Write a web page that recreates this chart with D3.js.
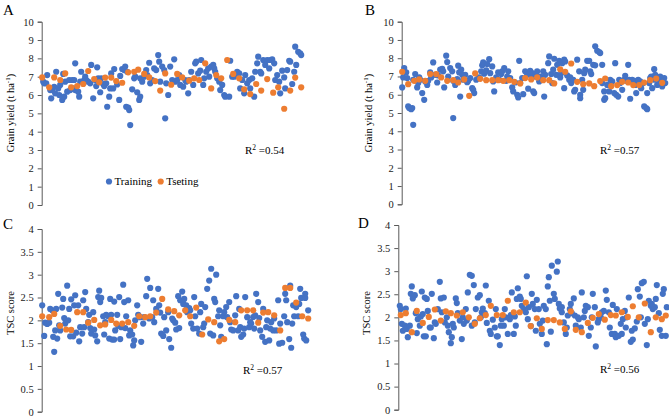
<!DOCTYPE html>
<html><head><meta charset="utf-8">
<script src="https://cdn.jsdelivr.net/npm/d3@7"></script>
<style>body{margin:0;background:#fff}svg{display:block}</style>
</head><body><svg id="c" width="669" height="418"></svg>
<script>
// ---- data: [sample index, value] ----
const trainA = [[1,6.73],[2,6.64],[4,6.64],[5,7.09],[8,6.27],[9,5.82],[10,6.27],[12,6.45],[13,6.09],[14,7.27],[16,6.36],[17,6.0],[18,6.55],[20,5.73],[21,7.15],[22,5.91],[23,6.73],[25,6.18],[27,6.82],[28,6.27],[30,6.82],[31,6.36],[32,6.82],[33,7.73],[33,6.27],[36,6.18],[37,5.91],[38,6.73],[39,7.27],[42,6.82],[43,7.0],[44,6.82],[46,6.73],[48,6.64],[49,7.64],[51,5.82],[53,6.82],[54,6.49],[55,7.51],[56,6.91],[58,6.15],[59,6.91],[61,6.6],[62,6.49],[64,6.64],[65,5.36],[67,5.91],[68,6.36],[69,7.18],[71,6.36],[72,7.42],[75,6.58],[77,5.73],[78,7.04],[80,7.42],[82,7.36],[83,7.55],[84,5.36],[85,7.27],[86,5.31],[87,5.18],[88,4.36],[90,6.31],[92,6.91],[93,7.0],[95,6.15],[97,5.73],[98,5.91],[98,6.91],[100,6.73],[102,7.0],[104,7.36],[105,7.09],[107,7.76],[108,6.64],[110,6.82],[112,7.45],[114,7.36],[116,8.18],[117,7.82],[118,6.73],[120,7.55],[122,7.36],[123,4.73],[124,6.64],[126,6.0],[128,7.55],[130,6.82],[132,7.95],[133,6.73],[135,6.82],[137,7.09],[138,6.55],[141,6.45],[143,6.82],[144,6.73],[146,6.09],[147,6.82],[149,7.27],[151,6.55],[153,7.73],[154,7.82],[156,7.18],[158,7.33],[159,7.91],[161,6.55],[162,6.91],[164,7.27],[166,7.45],[167,7.0],[169,7.55],[171,7.64],[172,7.45],[173,7.27],[175,6.91],[177,6.73],[178,6.27],[180,6.55],[182,6.0],[183,5.91],[187,5.91],[188,7.87],[190,7.0],[192,7.0],[195,7.27],[197,7.18],[198,6.36],[200,6.82],[202,6.09],[203,7.09],[205,6.64],[207,6.82],[208,6.36],[210,6.91],[212,5.91],[213,7.27],[215,7.73],[216,8.09],[218,7.27],[219,7.18],[221,7.91],[223,7.64],[225,7.91],[227,7.45],[228,7.91],[230,7.95],[232,7.73],[233,6.82],[235,7.09],[237,6.73],[238,6.09],[240,7.33],[242,6.96],[243,6.36],[245,7.36],[247,7.87],[248,7.82],[250,6.6],[252,7.27],[253,8.64],[254,7.64],[256,8.36],[258,8.27],[259,8.18]];
const testA = [[0,6.96],[7,6.42],[12,6.96],[18,6.82],[23,7.18],[29,6.42],[35,6.49],[41,6.6],[46,7.31],[52,6.87],[57,6.69],[63,6.95],[69,6.95],[74,6.76],[80,6.67],[86,7.24],[92,7.27],[96,7.38],[102,7.15],[107,6.96],[113,6.76],[118,6.24],[123,7.18],[129,6.56],[135,7.15],[140,6.96],[147,6.78],[152,6.91],[157,6.82],[163,7.73],[169,6.36],[174,7.09],[179,6.91],[185,7.91],[191,7.15],[197,6.91],[202,6.31],[208,6.05],[214,6.6],[219,6.24],[225,6.87],[231,6.13],[236,6.42],[242,5.25],[248,6.24],[253,6.95],[259,6.42]];

const trainB = [[0,6.40],[1,6.95],[2,7.46],[4,7.22],[5,6.91],[6,5.36],[7,5.27],[9,5.21],[10,5.27],[11,4.35],[11,6.82],[13,7.13],[15,6.40],[16,6.64],[17,6.95],[18,6.82],[20,6.09],[22,5.72],[23,6.73],[25,6.54],[26,6.76],[28,7.22],[29,6.95],[31,7.77],[33,7.09],[35,6.67],[36,7.06],[38,7.37],[40,7.42],[41,7.28],[42,6.40],[44,8.14],[45,7.79],[46,7.00],[48,7.46],[50,7.28],[51,4.72],[51,6.76],[53,6.54],[55,6.86],[56,7.59],[57,7.22],[58,5.90],[59,7.37],[60,7.09],[61,6.82],[63,7.09],[65,6.69],[66,6.76],[68,6.91],[70,6.36],[71,6.27],[72,6.09],[74,6.82],[76,6.91],[77,6.95],[79,7.28],[80,7.61],[81,7.77],[82,7.15],[84,7.33],[85,7.68],[87,7.95],[88,7.18],[90,7.55],[91,6.73],[92,6.18],[94,6.95],[96,7.22],[97,6.82],[99,7.13],[100,7.28],[102,7.46],[104,6.76],[105,7.00],[106,7.28],[108,6.91],[110,6.40],[111,6.18],[113,6.67],[115,6.00],[116,5.85],[117,7.86],[118,6.64],[120,6.91],[121,6.03],[123,7.28],[125,7.09],[126,6.33],[128,7.31],[130,6.95],[130,7.18],[131,6.18],[132,6.09],[133,7.09],[135,7.28],[137,6.73],[138,7.00],[141,7.28],[142,5.90],[143,7.09],[146,7.73],[147,8.10],[149,7.13],[150,6.64],[151,7.37],[152,7.97],[154,7.09],[155,7.64],[157,7.86],[158,6.95],[159,7.18],[160,7.73],[162,6.36],[162,7.92],[163,7.82],[165,7.06],[167,6.82],[168,6.95],[169,6.64],[171,6.82],[172,6.18],[173,6.27],[175,7.92],[177,7.28],[178,6.00],[178,5.81],[180,6.82],[181,6.27],[182,7.18],[183,7.37],[185,7.86],[187,7.86],[188,7.28],[189,7.13],[191,7.64],[193,7.61],[193,8.65],[195,8.41],[197,8.34],[198,8.28],[200,7.64],[200,6.64],[202,6.18],[202,5.72],[203,5.81],[205,6.54],[207,6.18],[208,6.82],[210,6.73],[212,6.09],[213,7.73],[214,6.00],[216,5.90],[217,6.82],[218,6.64],[220,6.27],[222,6.82],[223,7.04],[224,6.76],[226,7.64],[227,6.82],[228,5.78],[230,6.82],[232,6.76],[233,6.54],[234,6.09],[236,6.82],[238,6.73],[239,6.36],[241,6.64],[242,5.36],[244,5.27],[245,5.21],[245,6.09],[247,6.64],[248,6.91],[249,7.00],[250,6.36],[252,6.82],[252,7.40],[253,7.09],[255,6.54],[257,6.82],[258,7.00],[260,6.45],[262,6.91],[263,6.64]];
const testB = [[0,7.26],[6,6.58],[12,6.76],[17,6.84],[23,6.76],[28,7.13],[34,7.13],[39,6.95],[45,6.76],[51,6.8],[56,6.67],[62,6.84],[67,5.94],[73,7.17],[78,6.87],[84,6.8],[90,6.8],[96,6.8],[101,6.76],[107,6.8],[112,6.71],[118,6.62],[123,6.91],[129,6.84],[135,6.95],[141,6.8],[147,6.8],[152,6.62],[158,7.39],[163,7.26],[169,7.71],[175,6.71],[181,6.58],[187,6.62],[192,6.47],[198,6.75],[203,6.89],[209,6.47],[215,6.53],[220,6.71],[226,6.67],[231,6.53],[237,6.53],[242,6.67],[248,6.8],[254,6.89],[260,6.65]];

const trainC = [[0,2.33],[2,1.66],[3,1.95],[5,1.92],[7,1.95],[8,2.25],[10,2.22],[11,1.64],[12,1.31],[13,1.78],[14,2.25],[15,1.6],[16,2.58],[17,1.89],[18,1.78],[20,2.28],[21,2.47],[22,2.05],[23,1.93],[25,2.76],[26,2.0],[27,2.25],[28,1.65],[29,2.46],[31,1.65],[32,2.33],[33,2.55],[34,1.73],[36,2.33],[37,1.54],[38,1.85],[40,1.71],[41,2.44],[42,1.85],[43,2.62],[44,2.25],[46,1.96],[47,2.12],[48,1.83],[49,1.71],[51,2.18],[52,1.8],[53,1.67],[55,1.54],[56,2.51],[57,2.65],[58,2.4],[59,2.49],[61,2.09],[62,1.69],[63,1.96],[64,2.12],[66,2.09],[67,1.6],[68,2.47],[69,2.12],[70,1.58],[72,1.58],[72,2.41],[73,1.78],[75,2.12],[76,1.88],[77,2.51],[78,1.59],[79,1.85],[81,2.78],[82,2.4],[83,1.83],[84,2.09],[86,2.44],[87,1.67],[88,1.78],[90,1.69],[91,1.45],[92,1.56],[93,2.0],[95,2.33],[96,2.12],[98,2.07],[99,1.53],[101,1.93],[102,2.07],[104,2.53],[105,2.91],[107,2.04],[108,2.71],[110,2.07],[111,2.44],[112,1.96],[114,2.25],[116,2.69],[117,2.33],[118,2.17],[119,1.71],[121,1.66],[122,2.07],[124,1.78],[126,2.18],[127,1.59],[129,1.4],[130,2.04],[131,2.0],[133,1.95],[134,1.8],[136,2.53],[137,1.83],[138,2.44],[140,2.63],[141,2.36],[142,2.47],[144,2.33],[145,2.18],[147,2.27],[148,2.22],[149,1.93],[151,1.82],[152,2.51],[153,2.09],[155,1.82],[157,1.71],[158,2.18],[159,2.36],[161,1.85],[162,1.93],[163,2.29],[165,2.69],[167,2.87],[168,1.71],[169,3.13],[171,1.67],[172,2.47],[173,2.4],[174,3.0],[176,2.09],[177,2.22],[178,1.89],[179,1.64],[181,2.09],[182,2.18],[184,2.29],[185,2.07],[187,2.4],[188,1.96],[189,1.8],[191,1.78],[193,2.11],[194,2.53],[196,1.78],[197,2.25],[198,1.85],[199,1.64],[201,1.69],[202,1.82],[203,2.51],[205,2.07],[207,1.85],[208,1.96],[209,1.93],[211,2.07],[212,1.82],[213,2.11],[214,2.58],[216,2.4],[217,2.05],[218,1.78],[220,1.64],[221,2.25],[223,1.53],[224,1.85],[225,2.0],[227,1.56],[228,1.82],[229,1.96],[231,1.78],[232,2.04],[234,1.78],[236,2.44],[237,1.49],[238,1.93],[240,1.51],[242,2.09],[243,2.58],[244,2.44],[245,1.96],[247,1.59],[248,2.76],[249,1.4],[250,1.93],[251,2.33],[252,2.09],[254,2.29],[256,2.09],[257,2.36],[258,2.69],[259,2.49],[261,1.69],[262,1.6],[263,2.49],[263,2.58],[264,1.56],[266,2.22]];
const testC = [[0,2.09],[7,2.07],[12,2.14],[18,1.88],[24,1.8],[29,1.79],[35,2.18],[41,2.18],[46,1.95],[52,2.01],[58,1.89],[63,1.91],[69,2.01],[74,1.93],[80,1.93],[86,1.96],[92,1.88],[97,2.09],[103,2.07],[108,2.09],[114,2.17],[120,2.47],[126,2.24],[132,2.2],[137,2.11],[143,2.22],[148,2.09],[154,2.28],[160,1.69],[166,2.02],[172,1.96],[177,1.54],[182,1.59],[187,2.01],[193,1.96],[199,2.22],[205,2.22],[211,2.22],[216,1.95],[221,2.17],[226,2.18],[232,2.11],[238,1.78],[243,2.71],[248,2.71],[254,2.39],[260,2.09],[266,2.04]];

const trainD = [[1,2.25],[2,2.18],[3,1.86],[4,1.71],[6,1.82],[7,2.19],[8,1.75],[9,1.57],[11,1.82],[12,2.51],[13,2.67],[14,2.41],[16,2.48],[17,2.09],[18,1.66],[19,1.96],[21,1.82],[22,2.02],[23,2.56],[24,2.07],[25,1.59],[26,2.43],[27,1.59],[28,2.4],[29,2.14],[31,1.78],[32,1.78],[33,2.51],[35,1.55],[36,1.89],[37,1.86],[39,2.18],[41,2.77],[42,2.41],[43,2.11],[45,2.43],[46,1.89],[48,2.0],[49,1.82],[50,1.68],[52,1.44],[53,1.57],[54,1.86],[55,1.78],[57,2.41],[58,2.31],[59,2.09],[61,1.93],[63,1.53],[64,2.0],[65,1.86],[67,2.18],[68,1.93],[69,2.54],[71,2.92],[73,1.82],[73,2.9],[75,2.7],[76,1.89],[77,2.18],[79,2.43],[81,2.48],[82,2.0],[83,2.11],[84,2.19],[86,2.09],[87,2.69],[88,1.88],[90,2.36],[91,1.71],[92,1.64],[94,1.95],[96,1.78],[97,2.18],[98,1.59],[99,1.59],[101,1.4],[102,1.82],[103,1.96],[105,1.82],[106,2.18],[107,2.0],[109,1.64],[111,1.96],[112,2.05],[113,2.54],[115,1.64],[116,2.02],[117,1.82],[118,2.4],[119,2.63],[121,2.45],[122,2.4],[123,2.25],[125,2.18],[127,2.11],[128,2.89],[129,1.96],[130,2.22],[132,1.81],[133,2.51],[134,2.29],[136,2.18],[137,1.71],[138,2.38],[140,2.18],[141,1.86],[143,1.64],[144,1.93],[145,2.25],[147,2.18],[148,1.42],[149,2.67],[150,2.87],[151,2.36],[152,1.69],[153,3.12],[155,2.51],[156,2.4],[158,2.99],[159,3.21],[160,2.29],[161,2.19],[163,2.11],[163,2.22],[165,1.89],[167,1.64],[168,1.78],[169,2.04],[171,2.18],[172,2.29],[173,2.09],[175,2.41],[176,2.04],[177,1.82],[179,2.0],[180,1.96],[182,1.78],[183,2.54],[185,2.0],[186,2.14],[187,2.25],[189,2.22],[190,1.6],[192,1.78],[193,2.0],[194,2.51],[196,2.22],[197,1.37],[199,1.89],[200,1.96],[202,2.0],[203,2.11],[205,2.14],[207,2.58],[208,2.38],[210,2.11],[211,1.78],[213,1.64],[214,2.27],[216,1.64],[217,1.57],[218,2.18],[220,1.6],[222,1.86],[223,1.64],[224,1.96],[226,2.14],[227,1.78],[228,2.0],[230,2.43],[232,1.47],[233,1.71],[234,1.52],[236,1.76],[238,1.91],[239,2.61],[241,2.45],[242,2.0],[243,2.74],[245,2.77],[246,1.86],[248,1.4],[249,1.96],[250,2.36],[252,2.25],[253,2.29],[254,2.18],[256,2.22],[257,2.4],[258,2.7],[260,2.09],[261,1.73],[263,1.6],[264,2.51],[265,2.61],[267,1.6],[268,2.22]];
const testD = [[2,2.05],[7,2.09],[13,1.68],[18,2.14],[24,1.88],[30,2.01],[36,2.17],[42,1.93],[47,2.13],[52,2.09],[58,2.04],[64,2.11],[70,2.0],[76,1.86],[81,1.98],[87,2.05],[92,2.25],[98,2.05],[104,2.05],[109,2.36],[115,2.11],[121,2.11],[127,2.32],[132,1.81],[138,1.98],[143,1.75],[149,1.94],[155,1.94],[161,1.89],[166,1.75],[172,2.13],[177,1.73],[183,1.68],[189,1.88],[194,1.99],[200,2.07],[206,1.95],[212,2.05],[217,2.04],[223,2.11],[229,2.01],[234,2.24],[240,2.0],[246,2.3],[252,1.68],[257,2.0],[263,1.96],[267,2.04]];

const ticksYield = [0,1,2,3,4,5,6,7,8,9,10];
const ticksTSC = [0,0.5,1,1.5,2,2.5,3,3.5,4];
const r2Values = ["0.54","0.57","0.57","0.56"];
const seriesNames = ["Training","Tseting"];

// ---- layout ----
const BLUE = "#4472C4", ORANGE = "#ED7D31";
const FONT = "'Liberation Serif','Times New Roman',serif";
const panels = [
  {tag:"A", train:trainA, test:testA, ticks:ticksYield, ymax:10, ax:41.7, yTop:21.7, yBot:205, ylab:"yield", labX:13.5, labY:113, tagX:3, tagY:15, r2:r2Values[0], r2X:245, r2Y:154, legend:true},
  {tag:"B", train:trainB, test:testB, ticks:ticksYield, ymax:10, ax:401.7, yTop:21.7, yBot:204.3, ylab:"yield", labX:372, labY:113, tagX:365, tagY:15, r2:r2Values[1], r2X:600, r2Y:154},
  {tag:"C", train:trainC, test:testC, ticks:ticksTSC, ymax:4, ax:41.7, yTop:229, yBot:411.7, ylab:"tsc", labX:13.5, labY:313, tagX:3, tagY:229, r2:r2Values[2], r2X:243, r2Y:374},
  {tag:"D", train:trainD, test:testD, ticks:ticksTSC, ymax:4, ax:398.3, yTop:225, yBot:409.7, ylab:"tsc", labX:370, labY:313, tagX:358, tagY:228, r2:r2Values[3], r2X:600, r2Y:373}
];

const svg = d3.select("#c");
svg.append("rect").attr("width",669).attr("height",418).attr("fill","#fff");

panels.forEach(p => {
  const g = svg.append("g");
  const x = d3.scaleLinear().domain([0, 270]).range([p.ax + 0.5, p.ax + 270.5]);
  const y = d3.scaleLinear().domain([0, p.ymax]).range([p.yBot, p.yTop]);

  const axis = d3.axisLeft(y).tickValues(p.ticks).tickSize(4).tickPadding(4).tickFormat(d => String(d));
  const ag = g.append("g").attr("transform", `translate(${p.ax},0)`).call(axis);
  ag.select(".domain").attr("stroke","#595959").attr("stroke-width",1);
  ag.selectAll(".tick line").attr("stroke","#595959");
  ag.selectAll(".tick text").attr("font-family",FONT).attr("font-size",10.5).attr("fill","#222");

  g.selectAll("circle.tr").data(p.train).join("circle").attr("class","tr")
    .attr("cx", d => x(d[0])).attr("cy", d => y(d[1])).attr("r", 3.1).attr("fill", BLUE);
  g.selectAll("circle.te").data(p.test).join("circle").attr("class","te")
    .attr("cx", d => x(d[0])).attr("cy", d => y(d[1])).attr("r", 3.1).attr("fill", ORANGE);

  // panel tag
  g.append("text").attr("x",p.tagX).attr("y",p.tagY).attr("font-family",FONT).attr("font-size",15).attr("fill","#000").text(p.tag);

  // y label
  const yl = g.append("text").attr("transform",`translate(${p.labX},${p.labY}) rotate(-90)`)
    .attr("text-anchor","middle").attr("font-family",FONT).attr("font-size",10.5).attr("fill","#000");
  if (p.ylab === "yield") {
    yl.append("tspan").text("Grain yield (t ha");
    yl.append("tspan").attr("font-size",7).attr("dy",-4).text("-1");
    yl.append("tspan").attr("dy",4).text(")");
  } else {
    yl.text("TSC score");
  }

  // R2
  const rt = g.append("text").attr("x",p.r2X).attr("y",p.r2Y).attr("font-family",FONT).attr("font-size",11).attr("fill","#000");
  rt.append("tspan").text("R");
  rt.append("tspan").attr("font-size",7.5).attr("dy",-4).text("2");
  rt.append("tspan").attr("dy",4).text(" =" + p.r2);

  if (p.legend) {
    const lg = g.append("g").attr("font-family",FONT).attr("font-size",11);
    const items = [{name:seriesNames[0], c:BLUE, x:109},{name:seriesNames[1], c:ORANGE, x:160.7}];
    items.forEach(it => {
      lg.append("circle").attr("cx",it.x).attr("cy",181.5).attr("r",3.1).attr("fill",it.c);
      lg.append("text").attr("x",it.x+5.5).attr("y",185.3).attr("fill","#000").text(it.name);
    });
  }
});
</script></body></html>
